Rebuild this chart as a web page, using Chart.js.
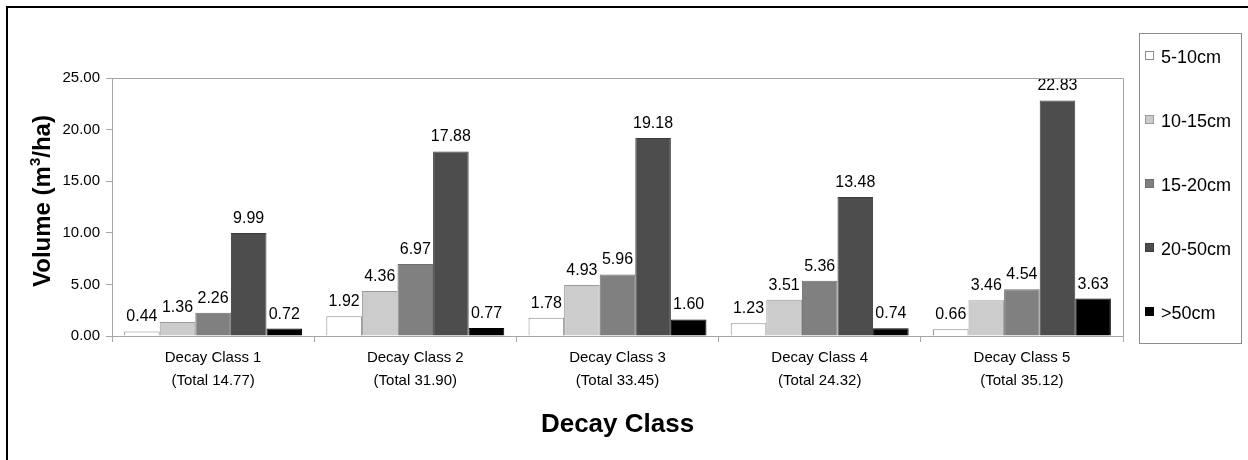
<!DOCTYPE html>
<html>
<head>
<meta charset="utf-8">
<script src="https://cdn.jsdelivr.net/npm/chart.js@4.4.0/dist/chart.umd.min.js"></script>
<style>
    html, body { margin: 0; padding: 0; background: #fff; }
    #wrap { width: 1248px; height: 460px; }
</style>
</head>
<body>
<div id="wrap"><canvas id="myChart" width="1248" height="460"></canvas></div>
<script>
// Datos del gráfico
const categories = [
    ['Decay Class 1', '(Total 14.77)'],
    ['Decay Class 2', '(Total 31.90)'],
    ['Decay Class 3', '(Total 33.45)'],
    ['Decay Class 4', '(Total 24.32)'],
    ['Decay Class 5', '(Total 35.12)']
];
const seriesNames = ['5-10cm', '10-15cm', '15-20cm', '20-50cm', '>50cm'];
const vol5to10 = [0.44, 1.92, 1.78, 1.23, 0.66];
const vol10to15 = [1.36, 4.36, 4.93, 3.51, 3.46];
const vol15to20 = [2.26, 6.97, 5.96, 5.36, 4.54];
const vol20to50 = [9.99, 17.88, 19.18, 13.48, 22.83];
const volOver50 = [0.72, 0.77, 1.60, 0.74, 3.63];
const yTicks = [0, 5, 10, 15, 20, 25];

const seriesValues = [vol5to10, vol10to15, vol15to20, vol20to50, volOver50];
const fills = ['#ffffff', '#cccccc', '#808080', '#4d4d4d', '#000000'];
const borders = ['#8c8c8c', '#9a9a9a', '#6e6e6e', '#3c3c3c', '#000000'];
const FONT = "'Liberation Sans', Arial, sans-serif";

// Marco exterior, borde del área de trazado y título del eje Y
const framePlugin = {
    id: 'frame',
    beforeDraw(chart) {
        const ctx = chart.ctx;
        ctx.save();
        ctx.fillStyle = '#fff';
        ctx.fillRect(0, 0, chart.width, chart.height);
        ctx.strokeStyle = '#000';
        ctx.lineWidth = 2;
        ctx.beginPath();
        ctx.moveTo(7, chart.height);
        ctx.lineTo(7, 7);
        ctx.lineTo(chart.width, 7);
        ctx.stroke();
        ctx.restore();
    },
    afterDraw(chart) {
        const ctx = chart.ctx;
        const a = chart.chartArea;
        ctx.save();
        ctx.strokeStyle = '#a6a6a6';
        ctx.lineWidth = 1;
        ctx.beginPath();
        ctx.moveTo(Math.round(a.left) + 0.5, Math.round(a.top) + 0.5);
        ctx.lineTo(Math.round(a.right) + 0.5, Math.round(a.top) + 0.5);
        ctx.lineTo(Math.round(a.right) + 0.5, Math.round(a.bottom) + 0.5);
        ctx.stroke();

        // Título Y con superíndice real
        const big = 'bold 24px ' + FONT;
        const small = 'bold 15px ' + FONT;
        const parts = [['Volume (m', big, 0], ['3', small, -10], ['/ha)', big, 0]];
        let total = 0;
        parts.forEach(p => { ctx.font = p[1]; total += ctx.measureText(p[0]).width; });
        ctx.translate(50, 201);
        ctx.rotate(-Math.PI / 2);
        ctx.fillStyle = '#000';
        ctx.textBaseline = 'alphabetic';
        ctx.textAlign = 'left';
        let x = -total / 2;
        parts.forEach(p => {
            ctx.font = p[1];
            ctx.fillText(p[0], x, p[2]);
            x += ctx.measureText(p[0]).width;
        });
        ctx.restore();
    }
};

// Etiquetas de valor sobre cada barra
const valueLabels = {
    id: 'valueLabels',
    afterDatasetsDraw(chart) {
        const ctx = chart.ctx;
        ctx.save();
        ctx.font = '16px ' + FONT;
        ctx.fillStyle = '#000';
        ctx.textAlign = 'center';
        ctx.textBaseline = 'alphabetic';
        chart.data.datasets.forEach((ds, i) => {
            chart.getDatasetMeta(i).data.forEach((bar, j) => {
                ctx.fillText(ds.data[j].toFixed(2), bar.x, bar.y - 10);
            });
        });
        ctx.restore();
    }
};

// Leyenda dibujada a mano (caja a la derecha)
const boxLegend = {
    id: 'boxLegend',
    afterDraw(chart) {
        const ctx = chart.ctx;
        ctx.save();
        ctx.strokeStyle = '#8c8c8c';
        ctx.lineWidth = 1;
        ctx.strokeRect(1139.5, 33.5, 102, 310);
        ctx.font = '18px ' + FONT;
        ctx.textBaseline = 'middle';
        ctx.textAlign = 'left';
        chart.data.datasets.forEach((ds, i) => {
            const cy = 58 + i * 64;
            ctx.fillStyle = ds.backgroundColor;
            ctx.fillRect(1145, cy - 7, 9, 9);
            ctx.strokeStyle = ds.borderColor;
            ctx.strokeRect(1145.5, cy - 6.5, 8, 8);
            ctx.fillStyle = '#000';
            ctx.fillText(ds.label, 1161, cy);
        });
        ctx.restore();
    }
};

const datasets = seriesNames.map((name, i) => ({
    label: name,
    data: seriesValues[i],
    backgroundColor: fills[i],
    borderColor: borders[i],
    borderWidth: 1,
    categoryPercentage: 0.88,
    barPercentage: 1.0
}));

new Chart(document.querySelector('#myChart'), {
    type: 'bar',
    data: { labels: categories, datasets: datasets },
    options: {
        responsive: false,
        animation: false,
        devicePixelRatio: 1,
        layout: { padding: { left: 0, top: 78, right: 125, bottom: 0 } },
        plugins: {
            legend: { display: false },
            tooltip: { enabled: false }
        },
        scales: {
            x: {
                afterFit: (scale) => { scale.height = 124; },
                grid: {
                    offset: true,
                    drawOnChartArea: false,
                    color: '#a6a6a6',
                    tickLength: 6
                },
                border: { color: '#a6a6a6' },
                ticks: {
                    color: '#000',
                    padding: 5,
                    maxRotation: 0,
                    font: { family: FONT, size: 15, lineHeight: 1.5 }
                },
                title: {
                    display: true,
                    text: 'Decay Class',
                    color: '#000',
                    font: { family: FONT, size: 26, weight: 'bold' },
                    padding: { top: 0, bottom: 20 }
                }
            },
            y: {
                min: 0,
                max: 25,
                afterFit: (scale) => { scale.width = 112; },
                afterBuildTicks: (scale) => { scale.ticks = yTicks.map(v => ({ value: v })); },
                grid: {
                    drawOnChartArea: false,
                    color: '#a6a6a6',
                    tickLength: 6
                },
                border: { color: '#a6a6a6' },
                ticks: {
                    color: '#000',
                    padding: 6,
                    font: { family: FONT, size: 15 },
                    callback: (v) => Number(v).toFixed(2)
                }
            }
        }
    },
    plugins: [framePlugin, valueLabels, boxLegend]
});
</script>
</body>
</html>
